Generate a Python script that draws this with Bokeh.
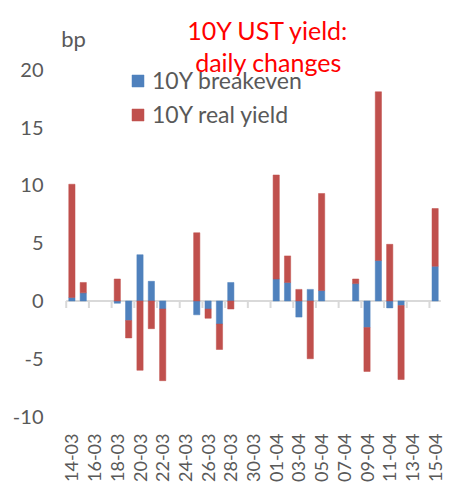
import math
import pandas as pd
from bokeh.plotting import figure
from bokeh.models import Range1d, FixedTicker, Label, Legend, LegendItem, ColumnDataSource
from bokeh.embed import file_html
from bokeh.resources import INLINE

# ---- data ----
dates = ["2024-03-14", "2024-03-15", "2024-03-18", "2024-03-19", "2024-03-20", "2024-03-21",
         "2024-03-22", "2024-03-25", "2024-03-26", "2024-03-27", "2024-03-28",
         "2024-04-01", "2024-04-02", "2024-04-03", "2024-04-04", "2024-04-05",
         "2024-04-08", "2024-04-09", "2024-04-10", "2024-04-11", "2024-04-12", "2024-04-15"]
breakeven = [0.3, 0.7, -0.2, -1.7, 4.0, 1.7, -0.7, -1.2, -0.7, -2.0, 1.6,
             1.9, 1.6, -1.4, 1.0, 0.9, 1.5, -2.3, 3.5, -0.6, -0.4, 3.0]
real_yield = [9.8, 0.9, 1.9, -1.5, -6.0, -2.4, -6.2, 5.9, -0.8, -2.2, -0.7,
              9.0, 2.3, 1.0, -5.0, 8.4, 0.4, -3.8, 14.6, 4.9, -6.4, 5.0]
y_ticks = [-10, -5, 0, 5, 10, 15, 20]
y_tick_labels = ["-10", "-5", "0", "5", "10", "15", "20"]
title_lines = ["10Y UST yield:", "daily changes"]
unit_label = "bp"
series_names = ["10Y breakeven", "10Y real yield"]

BLUE = "#4F81BD"
RED = "#C0504D"
GREY_TXT = "#595959"
AXIS_GREY = "#D9D9D9"
FONT = "Lato"

# ---- derived ----
d = pd.to_datetime(dates)
start = d[0]
end = d[-1]
x = [(di - start).days for di in d]
n_days = (end - start).days

be_bottom, be_top, ry_bottom, ry_top = [], [], [], []
for b, r in zip(breakeven, real_yield):
    be_bottom.append(0.0)
    be_top.append(b)
    if (b >= 0) == (r >= 0):
        ry_bottom.append(b)
        ry_top.append(b + r)
    else:
        ry_bottom.append(0.0)
        ry_top.append(r)

src = ColumnDataSource(dict(x=x, be_bottom=be_bottom, be_top=be_top,
                            ry_bottom=ry_bottom, ry_top=ry_top))

p = figure(width=449, height=486, output_backend="svg", toolbar_location=None,
           x_range=Range1d(-1.18, n_days + 1.09), y_range=Range1d(y_ticks[0], 26.0),
           min_border_left=58, min_border_top=0, min_border_right=2, min_border_bottom=70)
p.outline_line_color = None
p.xgrid.visible = False
p.ygrid.visible = False
p.background_fill_color = "white"

# zero axis line and ticks (category axis of the original chart)
p.segment(x0=[-0.5], y0=[0], x1=[n_days + 0.5], y1=[0], line_color=AXIS_GREY, line_width=2)
tick_pos = [t - 0.5 for t in range(0, n_days + 1, 2)]
p.segment(x0=tick_pos, y0=[0] * len(tick_pos), x1=tick_pos, y1=[-0.6] * len(tick_pos),
          line_color=AXIS_GREY, line_width=2)

r_be = p.vbar(x="x", bottom="be_bottom", top="be_top", width=0.55, source=src,
              fill_color=BLUE, line_color=BLUE, line_width=0.5)
r_ry = p.vbar(x="x", bottom="ry_bottom", top="ry_top", width=0.55, source=src,
              fill_color=RED, line_color=RED, line_width=0.5)

# axes
p.yaxis.ticker = FixedTicker(ticks=y_ticks)
p.yaxis.major_label_overrides = {t: l for t, l in zip(y_ticks, y_tick_labels)}
p.yaxis.axis_line_color = None
p.yaxis.major_tick_line_color = None
p.yaxis.minor_tick_line_color = None
p.yaxis.major_tick_out = 0
p.yaxis.major_tick_in = 0
p.yaxis.major_label_standoff = 15
p.yaxis.major_label_text_font = FONT
p.yaxis.major_label_text_font_size = "20px"
p.yaxis.major_label_text_color = GREY_TXT

x_tick_vals = list(range(0, n_days + 1, 2))
p.xaxis.ticker = FixedTicker(ticks=x_tick_vals)
p.xaxis.major_label_overrides = {
    v: (start + pd.Timedelta(days=v)).strftime("%d-%m") for v in x_tick_vals}
p.xaxis.major_label_orientation = math.pi / 2
p.xaxis.axis_line_color = None
p.xaxis.major_tick_line_color = None
p.xaxis.minor_tick_line_color = None
p.xaxis.major_tick_out = 0
p.xaxis.major_tick_in = 0
p.xaxis.major_label_standoff = 17
p.xaxis.major_label_text_font = FONT
p.xaxis.major_label_text_font_size = "18px"
p.xaxis.major_label_text_color = GREY_TXT

# legend
legend = Legend(items=[LegendItem(label=series_names[0], renderers=[r_be]),
                       LegendItem(label=series_names[1], renderers=[r_ry])],
                location=(72, 288), orientation="vertical",
                glyph_width=15, glyph_height=15, label_height=25, spacing=6,
                label_standoff=7, padding=0, margin=0,
                background_fill_alpha=0, border_line_color=None,
                label_text_font=FONT, label_text_font_size="23px",
                label_text_color=GREY_TXT)
p.add_layout(legend)

# title & unit
p.add_layout(Label(x=17.32, y=23.42, text=title_lines[0], text_align="center",
                   text_baseline="middle", text_color="#FF0000",
                   text_font=FONT, text_font_size="25px"))
p.add_layout(Label(x=17.32, y=20.65, text=title_lines[1], text_align="center",
                   text_baseline="middle", text_color="#FF0000",
                   text_font=FONT, text_font_size="25px"))
p.add_layout(Label(x=0.14, y=22.73, text=unit_label, text_align="center",
                   text_baseline="middle", text_color=GREY_TXT,
                   text_font=FONT, text_font_size="22px"))

open("out.html", "w").write(file_html(p, INLINE))
